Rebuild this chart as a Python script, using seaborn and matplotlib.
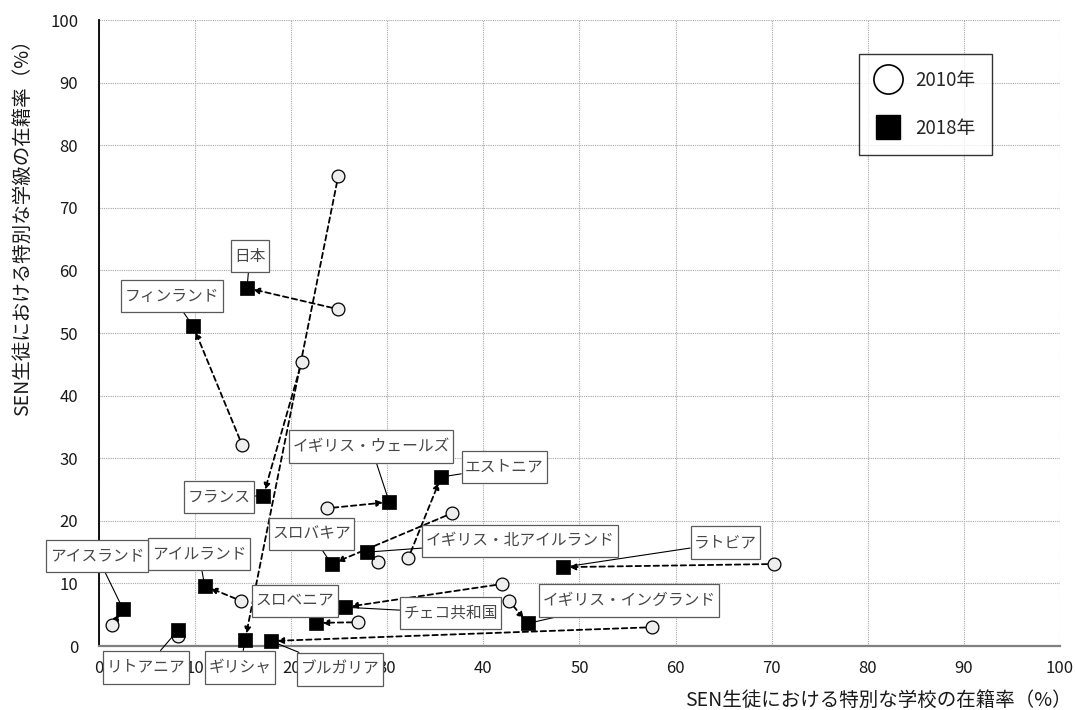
import matplotlib
matplotlib.use("Agg")
import matplotlib.pyplot as plt
from matplotlib.lines import Line2D
from matplotlib.path import Path
import seaborn as sns
import pandas as pd

# Enrolment shares of SEN pupils (%), 2010 vs 2018
countries = ["日本", "フィンランド", "ギリシャ", "フランス", "イギリス・ウェールズ", "エストニア",
             "スロバキア", "イギリス・北アイルランド", "ラトビア", "チェコ共和国", "スロベニア",
             "イギリス・イングランド", "ブルガリア", "アイルランド", "アイスランド", "リトアニア"]
school_2010 = [24.9, 14.9, 24.9, 21.1, 23.7, 32.2, 36.7, 29.0, 70.2, 41.9, 27.0, 42.7, 57.5, 14.8, 1.4, 8.2]
class_2010 = [53.8, 32.1, 75.1, 45.4, 22.0, 14.1, 21.2, 13.4, 13.1, 9.9, 3.8, 7.2, 3.0, 7.2, 3.3, 1.6]
school_2018 = [15.4, 9.8, 15.2, 17.1, 30.2, 35.6, 24.2, 27.9, 48.3, 25.6, 22.6, 44.6, 17.9, 11.0, 2.5, 8.2]
class_2018 = [57.2, 51.1, 1.0, 24.0, 23.0, 27.0, 13.1, 15.0, 12.6, 6.2, 3.7, 3.6, 0.8, 9.6, 5.9, 2.5]
years = ["2010年", "2018年"]
ticks = [0, 10, 20, 30, 40, 50, 60, 70, 80, 90, 100]

# where each country's callout box sits (data coordinates)
label_pos = {
    "日本": (15.7, 62.3), "フィンランド": (7.6, 55.9), "ギリシャ": (14.7, -3.4),
    "フランス": (12.5, 23.8), "イギリス・ウェールズ": (28.3, 31.9), "エストニア": (42.2, 28.6),
    "スロバキア": (22.1, 17.9), "イギリス・北アイルランド": (43.8, 16.8), "ラトビア": (65.2, 16.5),
    "チェコ共和国": (36.6, 5.3), "スロベニア": (20.4, 7.2), "イギリス・イングランド": (55.2, 7.3),
    "ブルガリア": (25.1, -3.7), "アイルランド": (10.4, 14.7), "アイスランド": (-0.2, 14.4),
    "リトアニア": (4.9, -3.4),
}

df = pd.DataFrame({
    "country": countries * 2,
    "school": school_2010 + school_2018,
    "klass": class_2010 + class_2018,
    "year": [years[0]] * len(countries) + [years[1]] * len(countries),
})


def callout_box(x0, y0, width, height, mutation_size):
    """Rectangle with a tight horizontal and a roomier vertical margin."""
    px, py = 0.22 * mutation_size, 0.5 * mutation_size
    return Path([(x0 - px, y0 - py), (x0 + width + px, y0 - py),
                 (x0 + width + px, y0 + height + py), (x0 - px, y0 + height + py),
                 (x0 - px, y0 - py)], closed=True)


sns.set_theme(style="white")
plt.rcParams["font.family"] = ["Noto Sans CJK JP", "DejaVu Sans"]

fig = plt.figure(figsize=(10.75, 7.1), dpi=100)
ax = fig.add_axes([0.0921, 0.0901, 0.8939, 0.8817])

# change arrows from 2010 to 2018
for xa, ya, xb, yb in zip(school_2010, class_2010, school_2018, class_2018):
    ax.annotate("", xy=(xb, yb), xytext=(xa, ya), xycoords="data",
                arrowprops=dict(arrowstyle="-|>", color="black", lw=1.3,
                                linestyle=(0, (3, 2)), mutation_scale=9,
                                shrinkA=4.5, shrinkB=4.5),
                zorder=2, annotation_clip=False)

sns.scatterplot(data=df[df["year"] == years[0]], x="school", y="klass", ax=ax,
                marker="o", s=85, color="#eeeeee", edgecolor="black", linewidth=0.9,
                zorder=3, clip_on=False, legend=False)
sns.scatterplot(data=df[df["year"] == years[1]], x="school", y="klass", ax=ax,
                marker="s", s=115, color="black", edgecolor="black", linewidth=0.5,
                zorder=4, clip_on=False, legend=False)

# callout boxes with leader lines
for c, xs, ys in zip(countries, school_2018, class_2018):
    lx, ly = label_pos[c]
    ax.annotate(c, xy=(xs, ys), xytext=(lx, ly), ha="center", va="center",
                fontsize=11.3, color="#474747", annotation_clip=False,
                bbox=dict(boxstyle=callout_box, fc="white", ec="#5a5a5a", lw=0.9),
                arrowprops=dict(arrowstyle="-", color="black", lw=0.8, shrinkA=0, shrinkB=4),
                zorder=5)

ax.set_xlim(0, 100)
ax.set_ylim(0, 100)
ax.set_xticks(ticks)
ax.set_yticks(ticks)
ax.set_xticklabels([str(t) for t in ticks], fontsize=12, color="#1a1a1a")
ax.set_yticklabels([str(t) for t in ticks], fontsize=12, color="#1a1a1a")
ax.grid(True, color="#a6a6a6", linestyle=(0, (1, 1)), lw=0.8)
ax.set_axisbelow(True)
for side in ["top", "right"]:
    ax.spines[side].set_visible(False)
ax.spines["left"].set_color("#000000")
ax.spines["left"].set_linewidth(1.3)
ax.spines["bottom"].set_color("#808080")
ax.spines["bottom"].set_linewidth(1.6)
ax.tick_params(axis="y", direction="out", length=5, width=1, color="#404040", pad=10)
ax.tick_params(axis="x", direction="out", length=5, width=1, color="#808080", pad=5)

ax.set_xlabel("")
ax.set_ylabel("")
fig.text(0.0205, 0.687, "SEN生徒における特別な学級の在籍率（%）", rotation=90,
         ha="center", va="center", fontsize=14, color="#1a1a1a")
fig.text(0.997, 0.014, "SEN生徒における特別な学校の在籍率（%）", ha="right", va="center",
         fontsize=14, color="#1a1a1a")

handles = [
    Line2D([], [], marker="o", ls="none", ms=21, mfc="white", mec="black", mew=1.2),
    Line2D([], [], marker="s", ls="none", ms=17, mfc="black", mec="black"),
]
leg = ax.legend(handles, years, loc="upper right", bbox_to_anchor=(0.929, 0.946),
                frameon=True, fancybox=False, edgecolor="black", fontsize=13.5,
                borderpad=0.85, labelspacing=1.45, handletextpad=0.75, handlelength=1.4,
                borderaxespad=0)
leg.get_frame().set_linewidth(1.0)

fig.savefig("out.png", dpi=100)
